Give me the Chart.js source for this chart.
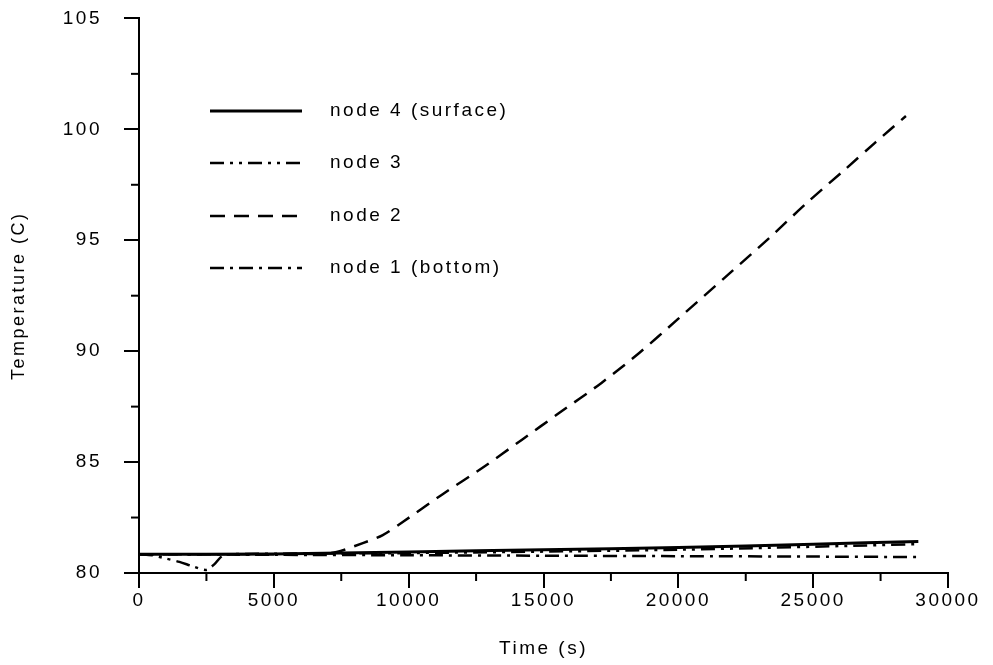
<!DOCTYPE html>
<html>
<head>
<meta charset="utf-8">
<script src="https://cdn.jsdelivr.net/npm/chart.js@4.4.0/dist/chart.umd.min.js"></script>
<style>
  html, body { margin: 0; padding: 0; background: #fff; }
  #wrap { width: 993px; height: 665px; overflow: hidden; }
  #temp-chart { display: block; margin-top: -15px; }
</style>
</head>
<body>
<div id="wrap"><canvas id="temp-chart" width="993" height="680"></canvas></div>
<script>
// Dữ liệu
const seriesLabels = ['node 4 (surface)', 'node 3', 'node 2', 'node 1 (bottom)'];

const node4Times = [0, 5000, 10000, 15000, 20000, 25000, 28900];
const node4Temps = [80.85, 80.86, 80.95, 81.05, 81.15, 81.3, 81.42];

const node3Times = [0, 500, 900, 1500, 2000, 2500, 2800, 3100, 3500, 10000, 20000, 28900];
const node3Temps = [80.85, 80.8, 80.68, 80.5, 80.3, 80.14, 80.4, 80.78, 80.85, 80.9, 81.05, 81.3];

const node2Times = [0, 6500, 7330, 8300, 9040, 9780, 11220, 12780, 14190, 15590, 17150, 18560, 19960, 21930, 23370, 24780, 26190, 27300, 28440];
const node2Temps = [80.85, 80.86, 80.95, 81.35, 81.71, 82.3, 83.52, 84.78, 86.0, 87.22, 88.57, 89.93, 91.42, 93.54, 95.1, 96.7, 98.2, 99.4, 100.6];

const node1Times = [0, 5000, 10000, 15000, 20000, 25000, 28900];
const node1Temps = [80.85, 80.82, 80.8, 80.78, 80.76, 80.74, 80.72];

const xTickValues = [0, 5000, 10000, 15000, 20000, 25000, 30000];
const yTickValues = [80, 85, 90, 95, 100, 105];

const FONT = "'Liberation Sans', Arial, Helvetica, sans-serif";
const SPACING = '2.5px';
const SHIFT = 15; // canvas đẩy lên 15px

function toPoints(times, temps) {
    return times.map((t, i) => ({ x: t, y: temps[i] }));
}

// Giãn chữ giống bản in gốc
const letterSpacing = {
    id: 'letterSpacing',
    beforeInit(chart) { chart.ctx.letterSpacing = SPACING; },
    beforeDraw(chart) { chart.ctx.letterSpacing = SPACING; }
};

// Chú thích vẽ bên trong vùng biểu đồ
const insideLegend = {
    id: 'insideLegend',
    afterDraw(chart) {
        const ctx = chart.ctx;
        const rows = [111, 163, 216, 268];
        ctx.save();
        chart.data.datasets.forEach((ds, i) => {
            const y = rows[i] + SHIFT;
            ctx.beginPath();
            ctx.setLineDash(ds.borderDash || []);
            ctx.lineWidth = ds.borderWidth;
            ctx.strokeStyle = '#000';
            ctx.moveTo(210, y);
            ctx.lineTo(302, y);
            ctx.stroke();
            ctx.setLineDash([]);
            ctx.fillStyle = '#000';
            ctx.font = '19px ' + FONT;
            ctx.letterSpacing = SPACING;
            ctx.textAlign = 'left';
            ctx.textBaseline = 'middle';
            ctx.fillText(ds.label, 330, y);
        });
        ctx.restore();
    }
};

// Vạch chia phụ
const minorTicks = {
    id: 'minorTicks',
    afterDraw(chart) {
        const ctx = chart.ctx;
        const xs = chart.scales.x, ys = chart.scales.y;
        ctx.save();
        ctx.strokeStyle = '#000';
        ctx.lineWidth = 2;
        for (let v = 2500; v < 30000; v += 5000) {
            const px = xs.getPixelForValue(v);
            ctx.beginPath();
            ctx.moveTo(px, xs.top);
            ctx.lineTo(px, xs.top + 8);
            ctx.stroke();
        }
        for (let v = 82.5; v < 105; v += 5) {
            const py = ys.getPixelForValue(v);
            ctx.beginPath();
            ctx.moveTo(ys.right, py);
            ctx.lineTo(ys.right - 8, py);
            ctx.stroke();
        }
        ctx.restore();
    }
};

const ctx = document.getElementById('temp-chart').getContext('2d');
new Chart(ctx, {
    type: 'line',
    data: {
        datasets: [
            {
                label: seriesLabels[0],
                data: toPoints(node4Times, node4Temps),
                borderColor: '#000',
                borderWidth: 3,
                borderDash: [],
                pointRadius: 0,
                tension: 0.3
            },
            {
                label: seriesLabels[1],
                data: toPoints(node3Times, node3Temps),
                borderColor: '#000',
                borderWidth: 2.5,
                borderDash: [14, 6, 3, 6, 3, 6],
                pointRadius: 0,
                tension: 0.3
            },
            {
                label: seriesLabels[2],
                data: toPoints(node2Times, node2Temps),
                borderColor: '#000',
                borderWidth: 2.5,
                borderDash: [15, 9],
                pointRadius: 0,
                tension: 0.3
            },
            {
                label: seriesLabels[3],
                data: toPoints(node1Times, node1Temps),
                borderColor: '#000',
                borderWidth: 2.5,
                borderDash: [14, 6, 3, 6],
                pointRadius: 0,
                tension: 0.3
            }
        ]
    },
    options: {
        responsive: false,
        animation: false,
        layout: { autoPadding: false, padding: { top: 18, right: 45, left: 0, bottom: 0 } },
        plugins: {
            legend: { display: false },
            tooltip: { enabled: false }
        },
        scales: {
            x: {
                type: 'linear',
                min: 0,
                max: 30000,
                afterBuildTicks: scale => { scale.ticks = xTickValues.map(v => ({ value: v })); },
                afterFit: scale => { scale.height = 92; },
                border: { color: '#000', width: 2 },
                grid: { drawOnChartArea: false, tickLength: 15, color: '#000', lineWidth: 2 },
                ticks: {
                    color: '#000',
                    font: { family: FONT, size: 19 },
                    padding: 1,
                    maxRotation: 0,
                    callback: v => String(v)
                },
                title: {
                    display: true,
                    text: 'Time (s)',
                    color: '#000',
                    font: { family: FONT, size: 19 },
                    padding: { top: 0, bottom: 5 }
                }
            },
            y: {
                min: 80,
                max: 105,
                afterBuildTicks: scale => { scale.ticks = yTickValues.map(v => ({ value: v })); },
                afterFit: scale => { scale.width = 139; },
                border: { color: '#000', width: 2 },
                grid: { drawOnChartArea: false, tickLength: 15, color: '#000', lineWidth: 2 },
                ticks: {
                    color: '#000',
                    font: { family: FONT, size: 19 },
                    padding: 22,
                    callback: v => String(v)
                },
                title: {
                    display: true,
                    text: 'Temperature (C)',
                    color: '#000',
                    font: { family: FONT, size: 18 },
                    padding: { top: 8, bottom: 0 }
                }
            }
        }
    },
    plugins: [letterSpacing, insideLegend, minorTicks]
});
</script>
</body>
</html>
